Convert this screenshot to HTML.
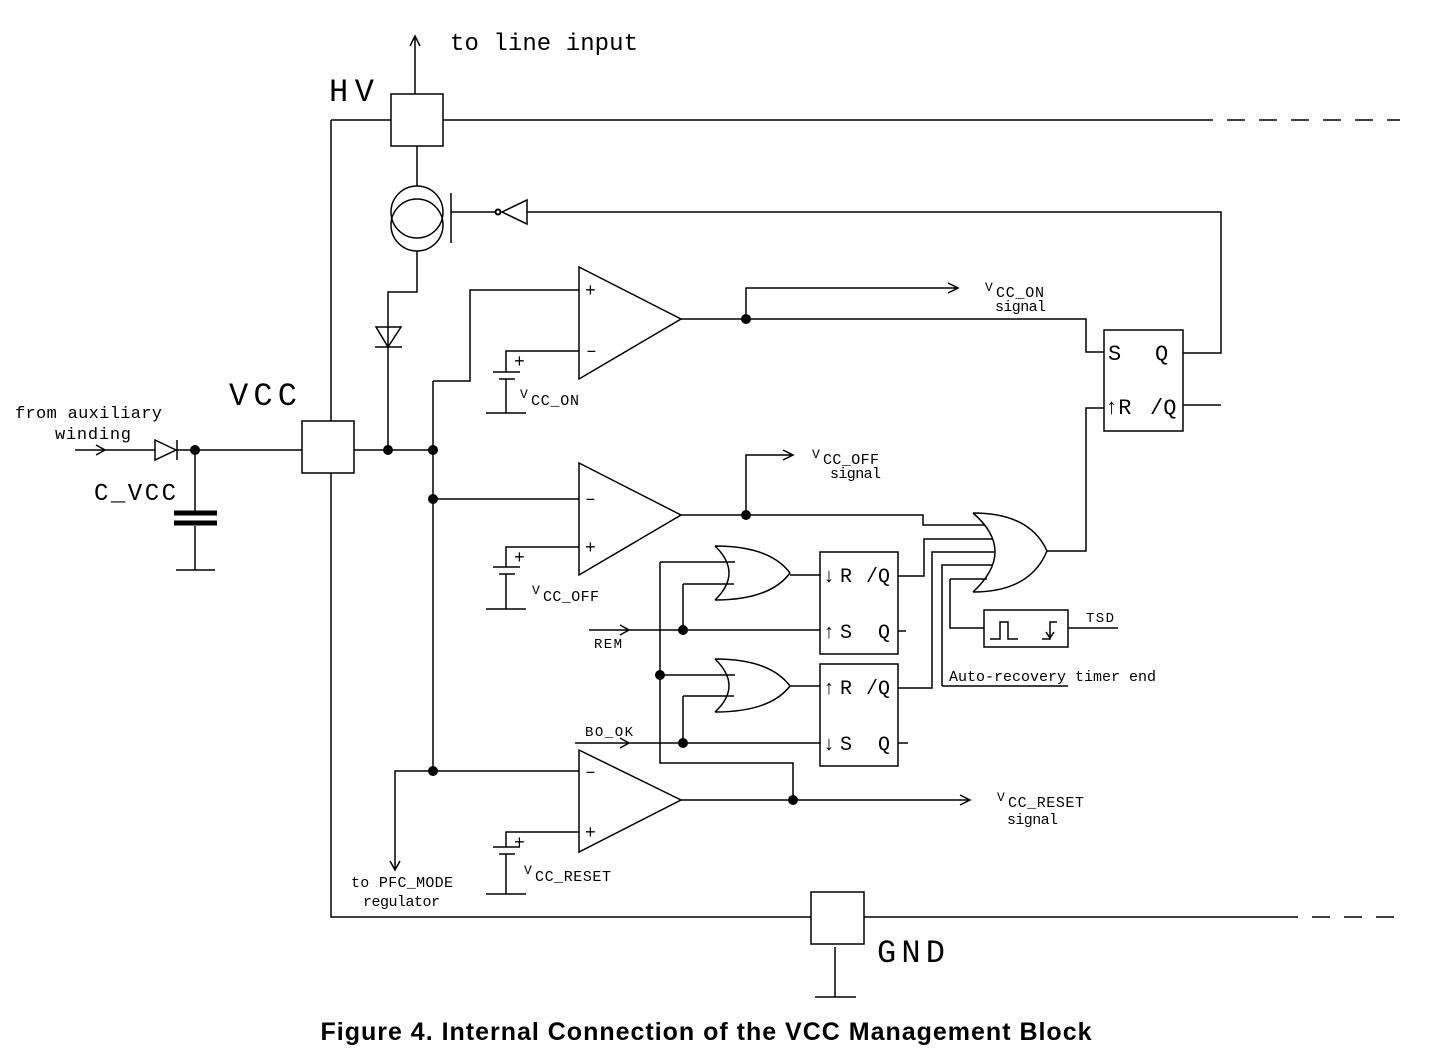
<!DOCTYPE html>
<html><head><meta charset="utf-8"><style>
html,body{margin:0;padding:0;background:#fff;}
svg{display:block;}
text{font-family:"Liberation Mono",monospace;fill:#000;}
</style></head><body>
<svg width="1447" height="1050" viewBox="0 0 1447 1050" xmlns="http://www.w3.org/2000/svg">
<g stroke="#000" stroke-width="1.5" fill="none">
<rect x="391" y="94" width="52" height="52"/>
<path d="M415 94 V36 M410 46 L415 36 L420 46"/>
<path d="M331 120 H391 M443 120 H1195"/>
<path d="M1195 120 H1400" stroke-dasharray="18 14"/>
<path d="M331 120 V421 M331 473 V917 H811 M864 917 H1280"/>
<path d="M1280 917 H1400" stroke-dasharray="18 14"/>
<rect x="811" y="892" width="53" height="52"/>
<path d="M835 947 V997 M815 997 H856"/>
<path d="M417 146 V186 M417 251 V292 H388 V450"/>
<circle cx="417" cy="212" r="26"/>
<circle cx="417" cy="225" r="26"/>
<path d="M451 193 V243 M451 212 H496 M502 212 L527 200 V224 Z M527 212 H1221 V353 H1183"/>
<circle cx="498" cy="212" r="2.5" stroke-width="2"/>
<path d="M376 327 H401 L388 347 Z M375 347 H402"/>
<rect x="302" y="421" width="52" height="52"/>
<path d="M354 450 H433 M433 381 V771"/>
<path d="M75 450 H155 M96 445 L105 450 L96 455 M155 440 L176 450 L155 460 Z M177 440 V460 M177 450 H302"/>
<path d="M195 450 V511 M195 526 V570 M176 570 H215"/>
<path d="M174 513 H217 M174 523 H217" stroke-width="5"/>
<path d="M579 267 L681 319 L579 379 Z"/>
<path d="M579 290 H470 V381 H433 M579 351 H506 V372"/>
<path d="M493 372 H520 M499 379 H515 M506 379 V413 M486 413 H526"/>
<path d="M681 319 H1086 V352 H1104 M746 319 V288 H958 M948 283 L958 288 L948 293"/>
<rect x="1104" y="330" width="79" height="101"/>
<path d="M1183 405 H1221 M1104 408 H1086 V551 H1047"/>
<path d="M579 463 L681 515 L579 575 Z"/>
<path d="M433 499 H579 M579 547 H506 V567"/>
<path d="M493 567 H520 M499 574 H515 M506 574 V609 M486 609 H526"/>
<path d="M681 515 H923 V525 H985 M746 515 V455 H793 M783 450 L793 455 L783 460"/>
<path d="M973 513 Q1017 551 973 592 M973 513 Q1030 513 1047 551 M973 592 Q1030 592 1047 551"/>
<path d="M898 576 H924 V539 H992 M898 688 H932 V552 H994 M942 686 V565 H992 M942 686 H1068 M950 579 H987 M950 579 V628 H984"/>
<rect x="984" y="610" width="84" height="37"/>
<path d="M1068 628 H1118"/>
<path d="M990 639 H1000 V622 H1008 V639 H1018 M1042 639 H1050 V622 H1057 M1046 632 L1050 638 L1054 632"/>
<path d="M715 546 Q743 573 715 600 M715 546 Q770 546 790 573 M715 600 Q770 600 790 573 M790 575 H820"/>
<path d="M715 659 Q743 686 715 712 M715 659 Q770 659 790 686 M715 712 Q770 712 790 686 M790 686 H820"/>
<path d="M660 562 H735 M683 584 H734 M683 584 V630 M660 675 H735 M683 696 H734 M683 696 V743"/>
<path d="M660 562 V763 H793 V800"/>
<rect x="820" y="552" width="78" height="102"/>
<rect x="820" y="664" width="78" height="102"/>
<path d="M898 631 H906 M898 743 H908"/>
<path d="M589 630 H820 M620 625 L629 630 L620 635 M575 743 H820 M620 738 L629 743 L620 748"/>
<path d="M579 750 L681 800 L579 852 Z"/>
<path d="M579 771 H395 V870 M390 861 L395 870 L400 861 M579 832 H506 V847"/>
<path d="M493 847 H520 M499 854 H515 M506 854 V894 M486 894 H526"/>
<path d="M681 800 H970 M960 795 L970 800 L960 805"/>
</g>
<g fill="#000">
<circle cx="195" cy="450" r="5"/><circle cx="388" cy="450" r="5"/><circle cx="433" cy="450" r="5"/>
<circle cx="433" cy="499" r="5"/><circle cx="433" cy="771" r="5"/><circle cx="746" cy="319" r="5"/>
<circle cx="746" cy="515" r="5"/><circle cx="683" cy="630" r="5"/><circle cx="683" cy="743" r="5"/>
<circle cx="660" cy="675" r="5"/><circle cx="793" cy="800" r="5"/>
</g>
<g font-size="16">
<text x="450" y="50" font-size="24" textLength="188">to line input</text>
<text x="329" y="101" font-size="32" textLength="45">HV</text>
<text x="229" y="405" font-size="32" textLength="68">VCC</text>
<text x="15" y="418" font-size="17" textLength="147">from auxiliary</text>
<text x="55" y="439" font-size="17" textLength="76">winding</text>
<text x="94" y="500" font-size="24" textLength="82">C_VCC</text>
<text x="877" y="962" font-size="32" textLength="68">GND</text>
<text x="585" y="296" font-size="18">+</text><text x="586" y="356" font-size="18">–</text>
<text x="585" y="504" font-size="18">–</text><text x="585" y="553" font-size="18">+</text>
<text x="585" y="777" font-size="18">–</text><text x="585" y="838" font-size="18">+</text>
<text x="514" y="367" font-size="18">+</text><text x="514" y="563" font-size="18">+</text><text x="514" y="848" font-size="18">+</text>
<text x="520" y="398" font-size="13">V</text><text x="531" y="405" textLength="48" font-size="15">CC_ON</text>
<text x="532" y="594" font-size="13">V</text><text x="543" y="601" textLength="56" font-size="15">CC_OFF</text>
<text x="524" y="874" font-size="13">V</text><text x="535" y="881" textLength="76" font-size="15">CC_RESET</text>
<text x="985" y="291" font-size="13">V</text><text x="996" y="297" textLength="48" font-size="15">CC_ON</text>
<text x="995" y="311" textLength="51" font-size="15">signal</text>
<text x="812" y="458" font-size="13">V</text><text x="823" y="464" textLength="56" font-size="15">CC_OFF</text>
<text x="830" y="478" textLength="51" font-size="15">signal</text>
<text x="997" y="801" font-size="13">V</text><text x="1008" y="807" textLength="76" font-size="15">CC_RESET</text>
<text x="1007" y="824" textLength="51" font-size="15">signal</text>
<text x="351" y="887" textLength="102" font-size="15">to PFC_MODE</text>
<text x="363" y="906" textLength="77" font-size="15">regulator</text>
<text x="594" y="648" textLength="28" font-size="14">REM</text>
<text x="585" y="736" textLength="48" font-size="14">BO_OK</text>
<text x="1086" y="622" textLength="28" font-size="14">TSD</text>
<text x="949" y="681" textLength="207" font-size="15">Auto-recovery timer end</text>
<text x="1108" y="360" font-size="22">S</text><text x="1155" y="360" font-size="22">Q</text>
<text x="1105" y="414" font-size="22">↑R</text><text x="1150" y="414" font-size="22">/Q</text>
<text x="823" y="582" font-size="20">↓</text><text x="840" y="582" font-size="20">R</text><text x="866" y="582" font-size="20">/Q</text>
<text x="823" y="638" font-size="20">↑</text><text x="840" y="638" font-size="20">S</text><text x="878" y="638" font-size="20">Q</text>
<text x="823" y="694" font-size="20">↑</text><text x="840" y="694" font-size="20">R</text><text x="866" y="694" font-size="20">/Q</text>
<text x="823" y="750" font-size="20">↓</text><text x="840" y="750" font-size="20">S</text><text x="878" y="750" font-size="20">Q</text>
</g>
<text x="706" y="1040" text-anchor="middle" style="font-family:'Liberation Sans',sans-serif;font-weight:bold;font-size:25px" textLength="771">Figure 4. Internal Connection of the VCC Management Block</text>
</svg>
</body></html>
